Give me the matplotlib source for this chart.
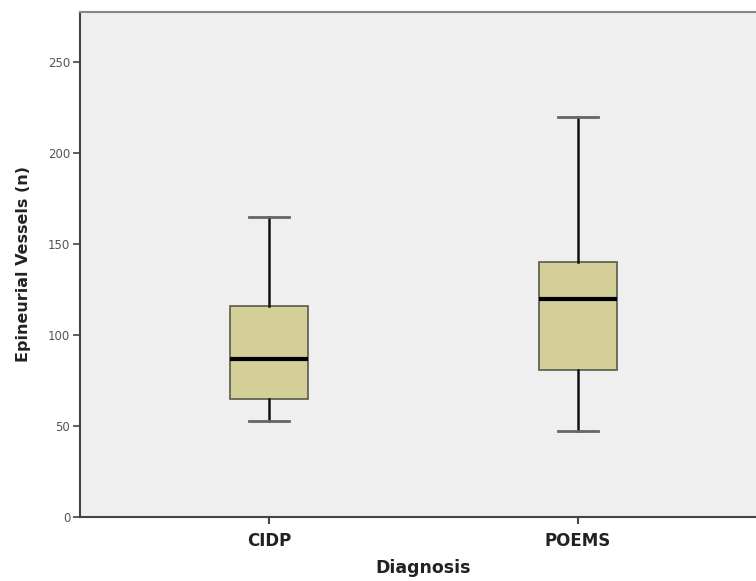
import matplotlib
matplotlib.use("Agg")
import matplotlib.pyplot as plt

categories = ["CIDP", "POEMS"]
whisker_low = [53, 47]
q1 = [65, 81]
median = [87, 120]
q3 = [116, 140]
whisker_high = [165, 220]
y_ticks = [0, 50, 100, 150, 200, 250]

fig = plt.figure(figsize=(7.56, 5.81), dpi=100)
ax = fig.add_axes([80/756, 1-517/581, (767-80)/756, (517-12)/581])
ax.set_facecolor("#efefef")

stats = []
for i, c in enumerate(categories):
    stats.append(dict(label=c, whislo=whisker_low[i], q1=q1[i], med=median[i],
                      q3=q3[i], whishi=whisker_high[i], fliers=[]))

ax.bxp(stats, positions=[0, 1], widths=0.25, patch_artist=True, showfliers=False,
       boxprops=dict(facecolor="#d4cf99", edgecolor="#5a5a4a", linewidth=1.2),
       medianprops=dict(color="black", linewidth=3),
       whiskerprops=dict(color="#111111", linewidth=1.8),
       capprops=dict(color="#666666", linewidth=2),
       capwidths=0.13)

ax.set_xlim(-0.612, 1.612)
ax.set_ylim(0, 277.5)
ax.set_yticks(y_ticks)
ax.set_yticklabels([str(t) for t in y_ticks], color="#555555", fontsize=8.5)
ax.set_xticks([0, 1])
ax.set_xticklabels(categories, fontsize=12, fontweight="bold", color="#222222")
ax.tick_params(axis="y", length=5, width=1.2, color="#444444", pad=2)
ax.tick_params(axis="x", length=5, width=1.5, color="#444444", pad=6)

for s in ["left", "bottom"]:
    ax.spines[s].set_color("#444444")
    ax.spines[s].set_linewidth(1.5)
ax.spines["top"].set_color("#888888")
ax.spines["top"].set_linewidth(1.5)
ax.spines["right"].set_visible(False)

ax.set_ylabel("Epineurial Vessels (n)", fontsize=11.5, fontweight="bold", color="#222222", labelpad=12)
ax.set_xlabel("Diagnosis", fontsize=12.5, fontweight="bold", color="#222222", labelpad=6)

fig.savefig("out.png", dpi=100)
